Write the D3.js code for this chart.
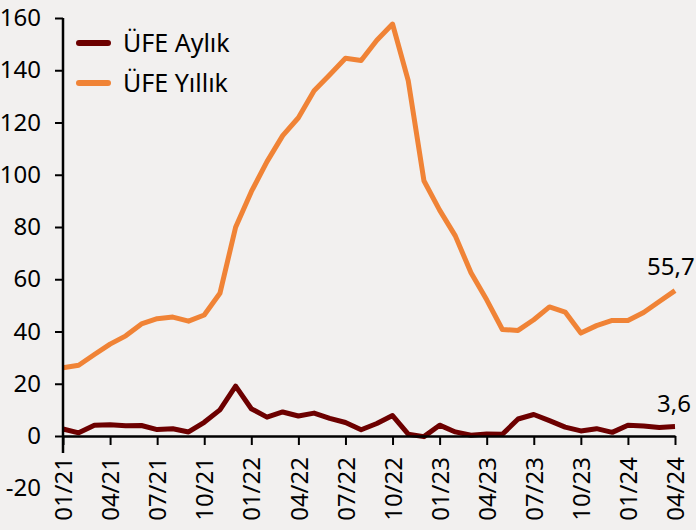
<!DOCTYPE html>
<html><head><meta charset="utf-8">
<script src="https://cdn.jsdelivr.net/npm/d3@7"></script>
<style>
html,body{margin:0;padding:0;background:#f2f0ef;}
svg{display:block;font-family:"Noto Sans",sans-serif;}
</style></head>
<body><svg id="c" width="696" height="530"></svg>
<script>
const months = ["01/21","02/21","03/21","04/21","05/21","06/21","07/21","08/21","09/21","10/21","11/21","12/21",
"01/22","02/22","03/22","04/22","05/22","06/22","07/22","08/22","09/22","10/22","11/22","12/22",
"01/23","02/23","03/23","04/23","05/23","06/23","07/23","08/23","09/23","10/23","11/23","12/23",
"01/24","02/24","03/24","04/24"];
const ufeYillik = [26.16,27.09,31.20,35.17,38.33,42.89,44.92,45.52,43.96,46.31,54.62,79.89,
93.53,105.01,114.97,121.82,132.16,138.31,144.61,143.75,151.50,157.69,136.02,97.72,
86.46,76.61,62.45,52.11,40.76,40.42,44.50,49.41,47.44,39.39,42.25,44.22,
44.20,47.29,51.47,55.66];
const ufeAylik = [2.66,1.22,4.13,4.34,3.92,4.01,2.46,2.77,1.55,5.24,9.99,19.08,
10.45,7.22,9.19,7.67,8.76,6.77,5.17,2.41,4.78,7.83,0.69,-0.24,
4.15,1.56,0.29,0.81,0.65,6.50,8.23,5.89,3.40,1.94,2.81,1.39,
4.14,3.86,3.29,3.60];
const yTicks = [-20,0,20,40,60,80,100,120,140,160];
const xTickLabels = ["01/21","04/21","07/21","10/21","01/22","04/22","07/22","10/22","01/23","04/23","07/23","10/23","01/24","04/24"];
const seriesNames = ["ÜFE Aylık","ÜFE Yıllık"];
const colors = ["#6d0000","#f08336"];
const endLabels = ["3,6","55,7"];

const svg = d3.select("#c");
svg.append("rect").attr("width",696).attr("height",530).attr("fill","#f2f0ef");

const x = d3.scalePoint().domain(months).range([63,675]);
const y = d3.scaleLinear().domain([-20,160]).range([488.25,18]);
const y0 = y(0);

// lines
const line = d3.line().x((d,i)=>x(months[i])).y(d=>y(d));
[ufeAylik, ufeYillik].forEach((s,k)=>{
  svg.append("path").datum(s).attr("d",line).attr("fill","none")
    .attr("stroke",colors[k]).attr("stroke-width",5).attr("stroke-linejoin","round");
});

// y axis
const yAxis = d3.axisLeft(y).tickValues(yTicks).tickSize(8).tickPadding(14).tickFormat(d=>String(d));
const gy = svg.append("g").attr("transform","translate(63,0)").call(yAxis);
gy.select(".domain").attr("d",`M0,${y(160)}V${y0+17}`).attr("stroke","#000").attr("stroke-width",2.5);
gy.selectAll(".tick line").attr("stroke","#000").attr("stroke-width",2)
  .attr("display",d=>d<0?"none":null);
gy.selectAll(".tick text").attr("font-size",24).attr("fill","#000").attr("font-family","Noto Sans");

// x axis
const xAxis = d3.axisBottom(x).tickValues(xTickLabels).tickSize(9).tickSizeOuter(0);
const gx = svg.append("g").attr("transform",`translate(0,${y0})`).call(xAxis);
gx.select(".domain").attr("stroke","#000").attr("stroke-width",2.5);
gx.selectAll(".tick line").attr("stroke","#000").attr("stroke-width",2);
gx.selectAll(".tick text").attr("font-size",24).attr("fill","#000").attr("font-family","Noto Sans")
  .attr("transform","rotate(-90)").attr("text-anchor","end")
  .attr("x",-21).attr("y",0).attr("dy","0.36em");

// legend
seriesNames.forEach((n,k)=>{
  const ly = 43 + k*40;
  svg.append("line").attr("x1",79).attr("x2",108).attr("y1",ly).attr("y2",ly)
    .attr("stroke",colors[k]).attr("stroke-width",6).attr("stroke-linecap","round");
  svg.append("text").attr("x",123).attr("y",ly+9).attr("font-size",25).attr("fill","#000").text(n);
});

// end labels
svg.append("text").attr("x",657).attr("y",412).attr("font-size",24).attr("fill","#000").text(endLabels[0]);
svg.append("text").attr("x",647).attr("y",275).attr("font-size",24).attr("fill","#000").text(endLabels[1]);
</script></body></html>
